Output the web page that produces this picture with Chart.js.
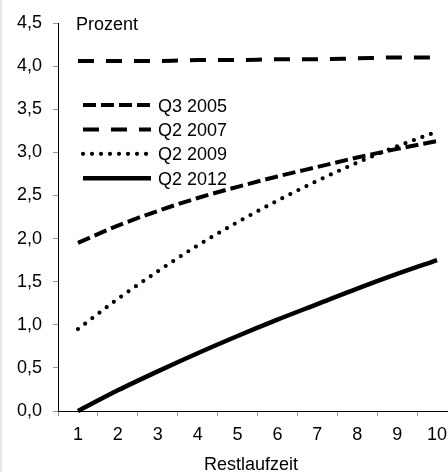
<!DOCTYPE html>
<html>
<head>
<meta charset="utf-8">
<script src="https://cdn.jsdelivr.net/npm/chart.js@4"></script>
<style>
    body { margin: 0; background: #fff; overflow: hidden; }
    #strip { position: fixed; left: 0; top: 0; width: 2px; height: 100%; background: #e6e6e6; }
    #chart { position: absolute; left: 0; top: 0; }
</style>
</head>
<body>
<div id="strip"></div>
<canvas id="chart" width="462" height="472"></canvas>
<script>
// Restlaufzeit in Jahren
const categories = ['1', '2', '3', '4', '5', '6', '7', '8', '9', '10'];

// Werte in Prozent
const q3_2005 = [1.95, 2.15, 2.32, 2.47, 2.60, 2.72, 2.83, 2.94, 3.04, 3.13];
const q2_2007 = [4.06, 4.06, 4.06, 4.07, 4.07, 4.08, 4.08, 4.09, 4.10, 4.10];
const q2_2009 = [0.95, 1.30, 1.62, 1.92, 2.19, 2.44, 2.67, 2.88, 3.07, 3.24];
const q2_2012 = [0.00, 0.24, 0.46, 0.67, 0.87, 1.06, 1.24, 1.42, 1.59, 1.75];

const seriesLabels = ['Q3 2005', 'Q2 2007', 'Q2 2009', 'Q2 2012'];

const FONT = "'Liberation Sans', Arial, sans-serif";

function makeDataset(label, data, dash, width, cap) {
    return {
        label: label,
        data: data,
        borderColor: '#000',
        borderWidth: width,
        borderDash: dash,
        borderCapStyle: cap,
        pointRadius: 0,
        fill: false,
        clip: false,
        cubicInterpolationMode: 'monotone'
    };
}

// draws the legend, the unit label and the axis title by hand
const extrasPlugin = {
    id: 'extras',
    afterDraw(chart) {
        const ctx = chart.ctx;
        ctx.save();
        ctx.fillStyle = '#000';
        ctx.font = '18px ' + FONT;
        ctx.textBaseline = 'alphabetic';
        ctx.textAlign = 'left';
        ctx.fillText('Prozent', 76, 29.5);

        ctx.textAlign = 'center';
        ctx.fillText('Restlaufzeit', 251, 470);

        // legend in the plot area
        chart.data.datasets.forEach(function (ds, i) {
            const y = 105 + i * 24.4;
            ctx.beginPath();
            ctx.setLineDash(ds.borderDash);
            ctx.lineCap = ds.borderCapStyle;
            ctx.lineWidth = ds.borderWidth;
            ctx.strokeStyle = '#000';
            ctx.moveTo(83, y);
            ctx.lineTo(151, y);
            ctx.stroke();
            ctx.setLineDash([]);
            ctx.textAlign = 'left';
            ctx.fillText(ds.label, 158, y + 6.6);
        });
        ctx.restore();
    }
};

const chart = new Chart(document.getElementById('chart'), {
    type: 'line',
    data: {
        labels: categories,
        datasets: [
            makeDataset(seriesLabels[0], q3_2005, [13, 5], 4, 'butt'),
            makeDataset(seriesLabels[1], q2_2007, [16, 12], 4, 'butt'),
            makeDataset(seriesLabels[2], q2_2009, [0, 9], 4.2, 'round'),
            makeDataset(seriesLabels[3], q2_2012, [], 4.5, 'butt')
        ]
    },
    options: {
        responsive: false,
        animation: false,
        devicePixelRatio: 1,
        layout: {
            padding: { left: 0, right: 5, top: 23, bottom: 0 }
        },
        plugins: {
            legend: { display: false },
            tooltip: { enabled: false }
        },
        scales: {
            x: {
                offset: true,
                grid: {
                    offset: true,
                    drawOnChartArea: false,
                    drawTicks: true,
                    tickLength: 5,
                    tickColor: '#999'
                },
                border: { display: true, color: '#000', width: 1 },
                ticks: {
                    color: '#000',
                    padding: 8,
                    maxRotation: 0,
                    font: { family: FONT, size: 18 }
                },
                afterFit: function (scale) {
                    scale.height = 61;
                }
            },
            y: {
                min: 0,
                max: 4.5,
                grid: {
                    drawOnChartArea: false,
                    drawTicks: true,
                    tickLength: 5,
                    tickColor: '#999'
                },
                border: { display: true, color: '#000', width: 1 },
                ticks: {
                    stepSize: 0.5,
                    color: '#000',
                    padding: 11,
                    font: { family: FONT, size: 18 },
                    callback: function (value) {
                        return value.toFixed(1).replace('.', ',');
                    }
                },
                afterFit: function (scale) {
                    scale.width = 58;
                }
            }
        }
    },
    plugins: [extrasPlugin]
});
</script>
</body>
</html>
